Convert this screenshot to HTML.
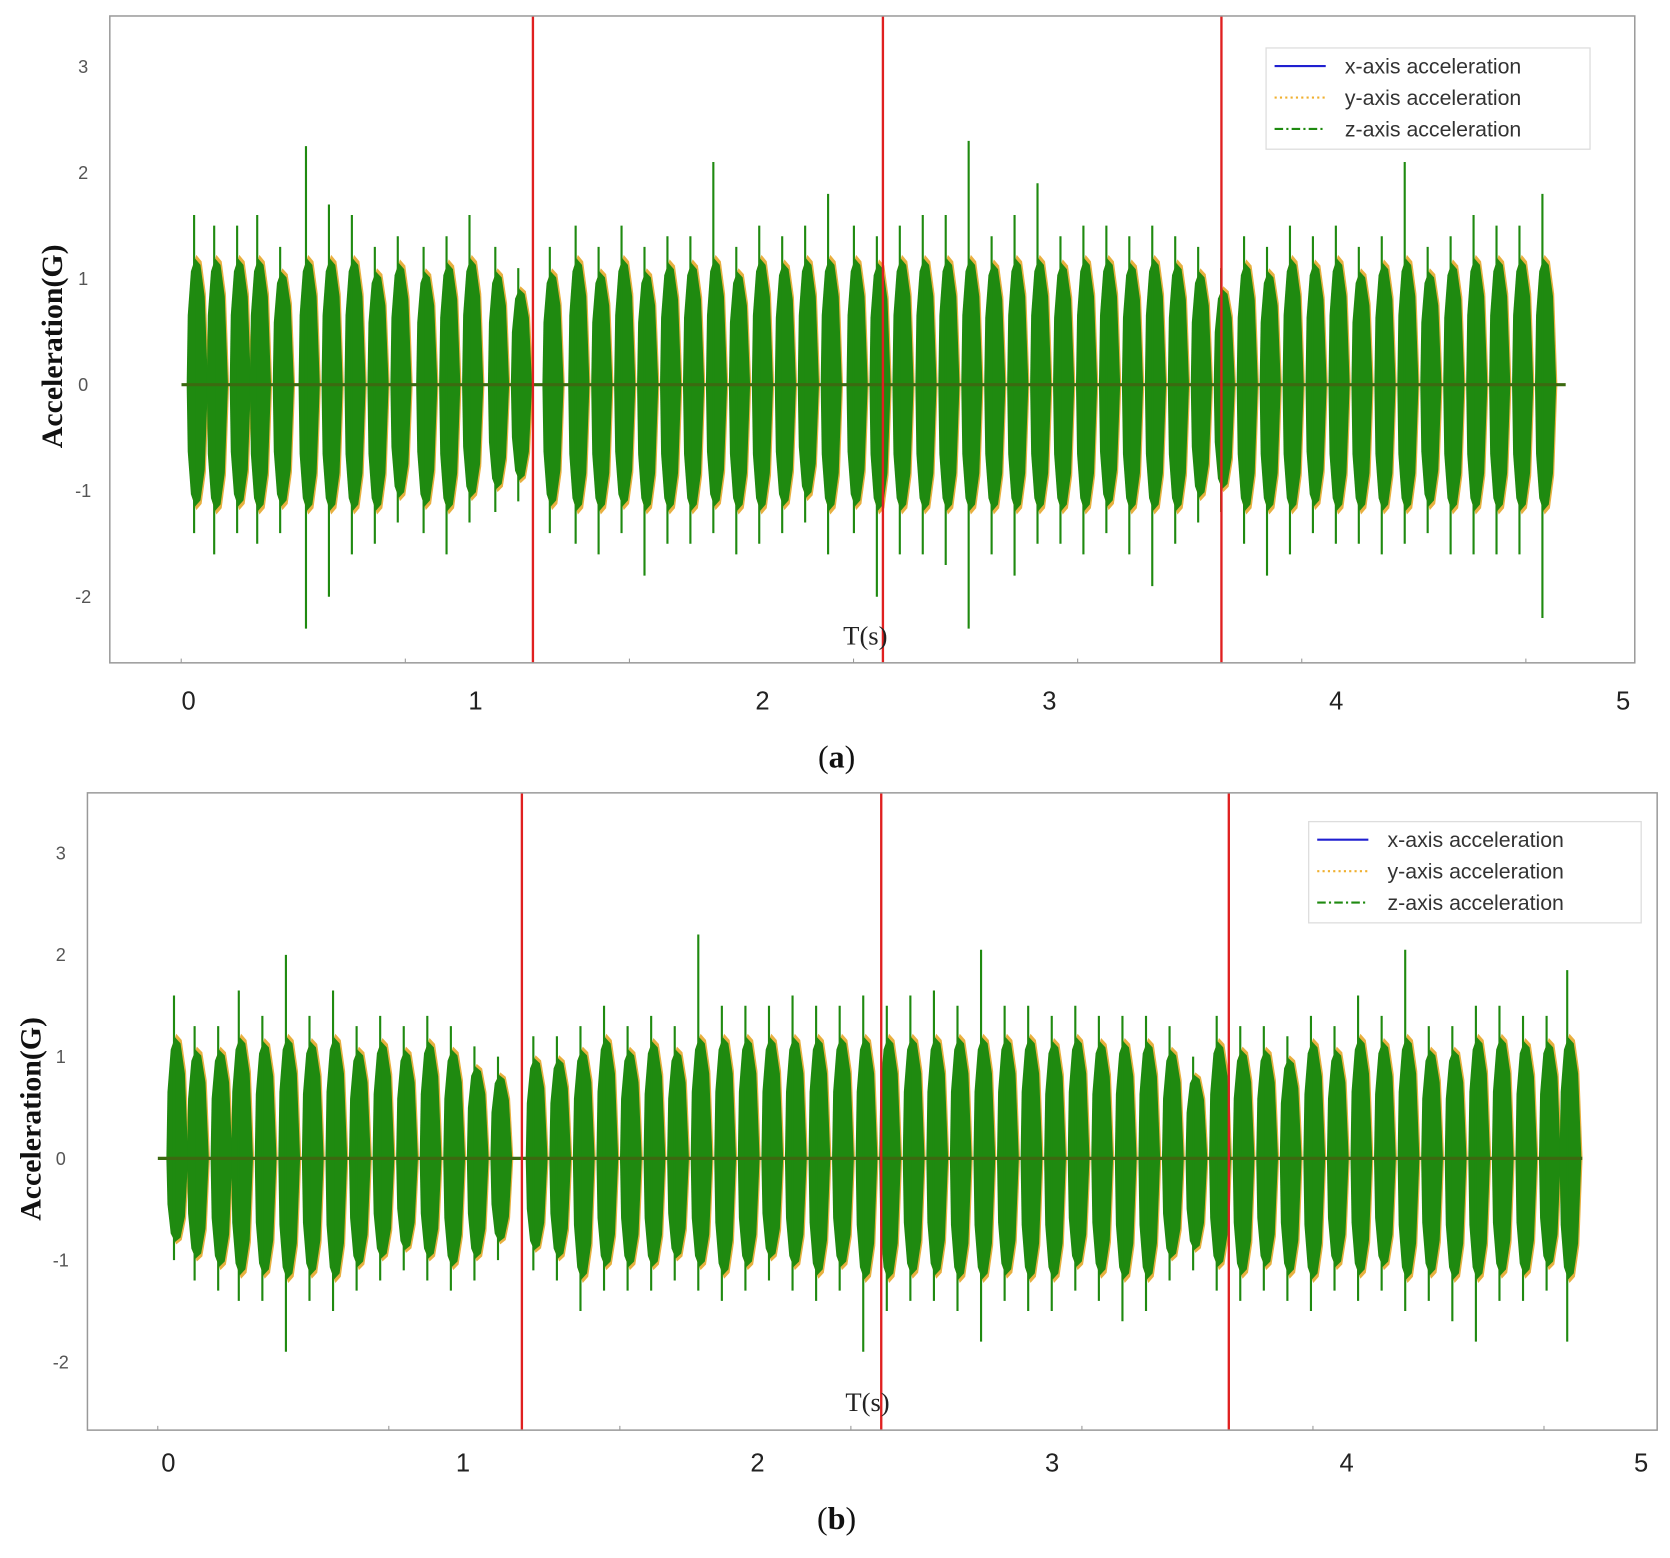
<!DOCTYPE html>
<html><head><meta charset="utf-8"><style>
html,body{margin:0;padding:0;background:#fff}
svg{display:block}
.sans{font-family:"Liberation Sans",sans-serif}
.serif{font-family:"Liberation Serif",serif}
</style></head><body>
<svg id="fig" width="1670" height="1558" viewBox="0 0 1567 1462" xmlns="http://www.w3.org/2000/svg"></svg>
<script>
// ---- data ----
const yTicks = [3,2,1,0,-1,-2];
const xTicks = [0,1,2,3,4,5];
const markers = [1.2,2.42,3.6];
const burstTimesA = [0.03,0.1,0.18,0.25,0.33,0.42,0.5,0.58,0.66,0.74,0.83,0.91,0.99,1.08,1.16,1.27,1.36,1.44,1.52,1.6,1.68,1.76,1.84,1.92,2.0,2.08,2.16,2.24,2.33,2.41,2.49,2.57,2.65,2.73,2.81,2.89,2.97,3.05,3.13,3.21,3.29,3.37,3.45,3.53,3.61,3.69,3.77,3.85,3.93,4.01,4.09,4.17,4.25,4.33,4.41,4.49,4.57,4.65,4.73];
const burstPosA = [1.6,1.5,1.5,1.6,1.3,2.25,1.7,1.6,1.3,1.4,1.3,1.4,1.6,1.3,1.1,1.3,1.5,1.3,1.5,1.3,1.4,1.4,2.1,1.3,1.5,1.4,1.5,1.8,1.5,1.4,1.5,1.6,1.6,2.3,1.4,1.6,1.9,1.4,1.5,1.5,1.4,1.5,1.4,1.3,1.1,1.4,1.3,1.5,1.4,1.5,1.3,1.4,2.1,1.3,1.4,1.6,1.5,1.5,1.8];
const burstNegA = [-1.4,-1.6,-1.4,-1.5,-1.4,-2.3,-2.0,-1.6,-1.5,-1.3,-1.4,-1.6,-1.3,-1.2,-1.1,-1.4,-1.5,-1.6,-1.4,-1.8,-1.5,-1.5,-1.4,-1.6,-1.5,-1.4,-1.3,-1.6,-1.4,-2.0,-1.6,-1.6,-1.7,-2.3,-1.6,-1.8,-1.5,-1.5,-1.6,-1.4,-1.6,-1.9,-1.5,-1.3,-1.2,-1.5,-1.8,-1.6,-1.4,-1.5,-1.5,-1.6,-1.5,-1.4,-1.6,-1.6,-1.6,-1.6,-2.2];
const burstTimesB = [0.03,0.1,0.18,0.25,0.33,0.41,0.49,0.57,0.65,0.73,0.81,0.89,0.97,1.05,1.13,1.25,1.33,1.41,1.49,1.57,1.65,1.73,1.81,1.89,1.97,2.05,2.13,2.21,2.29,2.37,2.45,2.53,2.61,2.69,2.77,2.85,2.93,3.01,3.09,3.17,3.25,3.33,3.41,3.49,3.57,3.65,3.73,3.81,3.89,3.97,4.05,4.13,4.21,4.29,4.37,4.45,4.53,4.61,4.69,4.76];
const burstPosB = [1.6,1.3,1.3,1.65,1.4,2.0,1.4,1.65,1.3,1.4,1.3,1.4,1.3,1.1,1.0,1.2,1.2,1.3,1.5,1.3,1.4,1.3,2.2,1.5,1.5,1.5,1.6,1.5,1.5,1.6,1.5,1.6,1.65,1.5,2.05,1.5,1.5,1.4,1.5,1.4,1.4,1.4,1.3,1.0,1.4,1.3,1.3,1.2,1.4,1.3,1.6,1.4,2.05,1.3,1.3,1.5,1.5,1.4,1.4,1.85];
const burstNegB = [-1.0,-1.2,-1.3,-1.4,-1.4,-1.9,-1.4,-1.5,-1.3,-1.2,-1.1,-1.2,-1.3,-1.2,-1.0,-1.1,-1.2,-1.5,-1.3,-1.3,-1.3,-1.2,-1.3,-1.4,-1.3,-1.2,-1.3,-1.4,-1.3,-1.9,-1.5,-1.4,-1.4,-1.5,-1.8,-1.4,-1.5,-1.5,-1.3,-1.4,-1.6,-1.5,-1.2,-1.1,-1.3,-1.4,-1.3,-1.4,-1.5,-1.3,-1.4,-1.3,-1.5,-1.4,-1.6,-1.8,-1.4,-1.4,-1.3,-1.8];

const NS='http://www.w3.org/2000/svg';
const svg=document.getElementById('fig');
function mk(tag,attrs,parent){const e=document.createElementNS(NS,tag);for(const k in attrs)e.setAttribute(k,attrs[k]);(parent||svg).appendChild(e);return e;}

function panel(P){
  const g=mk('g',{});
  
  
  const px=t=>P.x0+t*P.xs, py=v=>P.y0-v*P.ys;
  for(let i=0;i<P.times.length;i++){
    const t=P.times[i], a=P.pos[i], b=P.neg[i], w=0.037;
    const ca=Math.min(a,1.45)*0.82, cb=Math.max(b,-1.45)*0.82;
    const pts=[[t-w,0],[t-w*0.9,ca*0.55],[t-w*0.6,ca*0.9],[t-w*0.2,ca],[t+w*0.3,ca*0.95],[t+w*0.7,ca*0.7],[t+w,0],[t+w*0.7,cb*0.7],[t+w*0.3,cb*0.95],[t-w*0.2,cb],[t-w*0.6,cb*0.9],[t-w*0.9,cb*0.55]];
    const oh=mk('polygon',{points:pts.map(p=>px(p[0]+0.004)+','+py(p[1]*1.03)).join(' '),fill:'#e8b040'},g);
    
    
    const poly=mk('polygon',{points:pts.map(p=>px(p[0])+','+py(p[1])).join(' '),fill:'#1f8a10'},g);
    
    
    const sp=mk('line',{x1:px(t-w*0.3),x2:px(t-w*0.3),y1:py(a),y2:py(b),stroke:'#1f8a10','stroke-width':2},g);
    
    
  }
  const bl=mk('line',{x1:px(P.t0),x2:px(4.8),y1:py(0),y2:py(0),stroke:'#3b6a10','stroke-width':3},g);
  
  
  markers.forEach(m=>{
    const l=mk('line',{x1:px(m),x2:px(m),y1:P.top,y2:P.bottom,stroke:'#e02020','stroke-width':2.2},g);
    
    
  });
  const fr=mk('rect',{x:P.left,y:P.top,width:P.right-P.left,height:P.bottom-P.top,fill:'none',stroke:'#999','stroke-width':1.4},g);
  
  
  yTicks.forEach(v=>{
    const tx=mk('text',{x:P.ylx,y:py(v)+6,'font-size':17,fill:'#555','text-anchor':'middle','class':'sans'},g);
    tx.textContent=v;
    
    
  });
  xTicks.forEach(v=>{
    const tx=mk('text',{x:px(v),y:P.xly,'font-size':24,fill:'#222','text-anchor':'middle','class':'sans'},g);
    tx.textContent=v;
    
    
  });
  for(let k=0;k<7;k++){
    const xx=P.mt0+k*P.mts;
    const tk=mk('line',{x1:xx,x2:xx,y1:P.bottom,y2:P.bottom-4,stroke:'#999','stroke-width':1},g);
    
    
  }
  const yt=mk('text',{x:0,y:0,'font-size':28,'font-weight':'bold','class':'serif','text-anchor':'middle',transform:`translate(${P.ytx},${P.yty}) rotate(-90)`,fill:'#111'},g);
  yt.textContent='Acceleration(G)';
  
  
  const xt=mk('text',{x:P.xtx,y:P.xty,'font-size':25,'class':'serif','text-anchor':'middle',fill:'#222'},g);
  xt.textContent='T(s)';
  
  
  const L=P.leg;
  const lg=mk('g',{},g);
  
  
  mk('rect',{x:L.x,y:L.y,width:L.w,height:L.h,fill:'#fff',stroke:'#ddd','stroke-width':1.2},lg);
  const items=[['x-axis acceleration','#2020d0',''],['y-axis acceleration','#f0b030','2 3'],['z-axis acceleration','#1f8a10','8 3 2 3']];
  items.forEach((it,i)=>{
    const yy=L.y+17+i*29.5;
    const ln=mk('line',{x1:L.x+8,x2:L.x+56,y1:yy,y2:yy,stroke:it[1],'stroke-width':2,'stroke-dasharray':it[2]},lg);
    
    
    const tx=mk('text',{x:L.x+74,y:yy+7,'font-size':20,fill:'#333','class':'sans'},lg);
    tx.textContent=it[0];
    
    
  });
  const cap=mk('text',{x:785,y:P.capy,'font-size':30,'class':'serif','text-anchor':'middle',fill:'#111'},g);
  cap.innerHTML='(<tspan font-weight="bold">'+P.cap+'</tspan>)';
  
  
}

panel({name:'panel-a',times:burstTimesA,pos:burstPosA,neg:burstNegA,t0:-0.025,
  x0:177,xs:269.2,y0:361,ys:99.5,left:103,right:1534,top:15,bottom:622,
  ylx:78,xly:666,mt0:170,mts:210.3,ytx:58,yty:325,xtx:812,xty:605,
  leg:{x:1188,y:45,w:304,h:95},cap:'a',capy:720});
panel({name:'panel-b',times:burstTimesB,pos:burstPosB,neg:burstNegB,t0:-0.036,
  x0:158,xs:276.4,y0:1087,ys:95.5,left:82,right:1555,top:744,bottom:1342,
  ylx:57,xly:1381,mt0:148,mts:216.8,ytx:38,yty:1050,xtx:814,xty:1324,
  leg:{x:1228,y:771,w:312,h:95},cap:'b',capy:1435});
</script>
</body></html>
